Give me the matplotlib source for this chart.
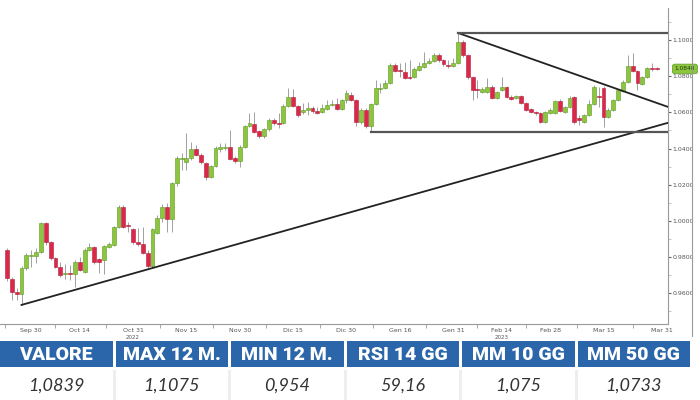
import numpy as np
import matplotlib
matplotlib.use('Agg')
import matplotlib.pyplot as plt
from matplotlib.patches import Rectangle

# EUR/USD daily candles, 23 Sep 2022 -> 30 Mar 2023 (business days)
opens = [0.9839, 0.9679, 0.9607, 0.9595, 0.9739, 0.9806, 0.9806, 0.9828, 0.9989, 0.9883,
         0.9794, 0.9745, 0.9706, 0.9712, 0.9706, 0.9772, 0.9717, 0.9839, 0.9855, 0.9789,
         0.9783, 0.9855, 0.9866, 0.9966, 1.0077, 0.9977, 0.9955, 0.9883, 0.9872, 0.9822,
         0.9750, 0.9933, 1.0016, 1.0077, 1.0010, 1.0209, 1.0342, 1.0325, 1.0347, 1.0397,
         1.0364, 1.0320, 1.0242, 1.0303, 1.0397, 1.0403, 1.0408, 1.0347, 1.0331, 1.0408,
         1.0524, 1.0535, 1.0497, 1.0469, 1.0508, 1.0558, 1.0541, 1.0541, 1.0635, 1.0685,
         1.0635, 1.0602, 1.0613, 1.0624, 1.0607, 1.0602, 1.0618, 1.0641, 1.0646, 1.0618,
         1.0668, 1.0696, 1.0668, 1.0547, 1.0613, 1.0524, 1.0646, 1.0729, 1.0735, 1.0762,
         1.0862, 1.0834, 1.0823, 1.0795, 1.0795, 1.0834, 1.0851, 1.0873, 1.0884, 1.0917,
         1.0889, 1.0862, 1.0856, 1.0873, 1.0989, 1.0917, 1.0795, 1.0729, 1.0713, 1.0713,
         1.0740, 1.0679, 1.0724, 1.0740, 1.0685, 1.0679, 1.0690, 1.0652, 1.0618, 1.0602,
         1.0596, 1.0547, 1.0596, 1.0596, 1.0663, 1.0602, 1.0630, 1.0685, 1.0569, 1.0547,
         1.0585, 1.0646, 1.0690, 1.0735, 1.0574, 1.0613, 1.0668, 1.0718, 1.0768, 1.0856,
         1.0828, 1.0757, 1.0795, 1.0845, 1.0842]
highs = [0.9850, 0.9690, 0.9629, 0.9750, 0.9822, 0.9839, 0.9850, 0.9994, 0.9994, 0.9888,
         0.9800, 0.9772, 0.9761, 0.9756, 0.9783, 0.9800, 0.9850, 0.9877, 0.9861, 0.9794,
         0.9866, 0.9883, 0.9971, 1.0088, 1.0088, 0.9994, 0.9960, 0.9960, 0.9966, 0.9839,
         0.9960, 1.0032, 1.0093, 1.0099, 1.0215, 1.0359, 1.0375, 1.0486, 1.0436, 1.0419,
         1.0375, 1.0325, 1.0309, 1.0414, 1.0430, 1.0430, 1.0502, 1.0359, 1.0419, 1.0530,
         1.0596, 1.0602, 1.0502, 1.0513, 1.0569, 1.0569, 1.0596, 1.0646, 1.0735, 1.0729,
         1.0641, 1.0652, 1.0657, 1.0635, 1.0630, 1.0646, 1.0668, 1.0668, 1.0679, 1.0674,
         1.0724, 1.0713, 1.0674, 1.0624, 1.0624, 1.0652, 1.0779, 1.0762, 1.0779, 1.0873,
         1.0873, 1.0873, 1.0878, 1.0889, 1.0851, 1.0878, 1.0934, 1.0900, 1.0928, 1.0928,
         1.0895, 1.0889, 1.0900, 1.1039, 1.1000, 1.0923, 1.0801, 1.0779, 1.0740, 1.0790,
         1.0751, 1.0718, 1.0795, 1.0746, 1.0696, 1.0696, 1.0696, 1.0657, 1.0624, 1.0607,
         1.0602, 1.0607, 1.0624, 1.0668, 1.0674, 1.0635, 1.0690, 1.0690, 1.0585, 1.0591,
         1.0668, 1.0751, 1.0740, 1.0746, 1.0624, 1.0674, 1.0729, 1.0779, 1.0917, 1.0928,
         1.0834, 1.0801, 1.0851, 1.0873, 1.0851]
lows = [0.9667, 0.9562, 0.9562, 0.9535, 0.9728, 0.9745, 0.9767, 0.9822, 0.9866, 0.9783,
        0.9739, 0.9690, 0.9679, 0.9673, 0.9634, 0.9722, 0.9712, 0.9834, 0.9761, 0.9712,
        0.9706, 0.9850, 0.9861, 0.9960, 0.9960, 0.9938, 0.9872, 0.9861, 0.9817, 0.9739,
        0.9739, 0.9927, 0.9994, 0.9938, 0.9938, 1.0193, 1.0281, 1.0281, 1.0336, 1.0359,
        1.0314, 1.0226, 1.0237, 1.0298, 1.0381, 1.0392, 1.0336, 1.0320, 1.0298, 1.0403,
        1.0519, 1.0486, 1.0458, 1.0458, 1.0497, 1.0530, 1.0513, 1.0535, 1.0630, 1.0630,
        1.0574, 1.0591, 1.0585, 1.0596, 1.0591, 1.0596, 1.0613, 1.0635, 1.0613, 1.0613,
        1.0652, 1.0663, 1.0524, 1.0535, 1.0513, 1.0491, 1.0641, 1.0707, 1.0729, 1.0757,
        1.0823, 1.0795, 1.0784, 1.0784, 1.0790, 1.0828, 1.0845, 1.0867, 1.0878, 1.0878,
        1.0856, 1.0845, 1.0851, 1.0867, 1.0906, 1.0784, 1.0668, 1.0679, 1.0707, 1.0707,
        1.0674, 1.0674, 1.0718, 1.0679, 1.0668, 1.0674, 1.0646, 1.0607, 1.0596, 1.0585,
        1.0541, 1.0541, 1.0591, 1.0591, 1.0602, 1.0596, 1.0624, 1.0535, 1.0530, 1.0541,
        1.0580, 1.0641, 1.0630, 1.0519, 1.0569, 1.0607, 1.0663, 1.0713, 1.0762, 1.0823,
        1.0724, 1.0751, 1.0790, 1.0828, 1.0834]
closes = [0.9684, 0.9607, 0.9595, 0.9739, 0.9811, 0.9811, 0.9828, 0.9989, 0.9883, 0.9794,
          0.9745, 0.9701, 0.9712, 0.9706, 0.9772, 0.9728, 0.9839, 0.9855, 0.9772, 0.9772,
          0.9861, 0.9872, 0.9966, 1.0077, 0.9966, 0.9971, 0.9883, 0.9872, 0.9822, 0.9750,
          0.9955, 1.0016, 1.0077, 1.0010, 1.0209, 1.0347, 1.0347, 1.0347, 1.0397, 1.0364,
          1.0325, 1.0242, 1.0303, 1.0403, 1.0408, 1.0408, 1.0342, 1.0331, 1.0408, 1.0524,
          1.0541, 1.0491, 1.0469, 1.0508, 1.0558, 1.0541, 1.0538, 1.0635, 1.0685, 1.0635,
          1.0585, 1.0613, 1.0624, 1.0607, 1.0596, 1.0624, 1.0641, 1.0646, 1.0618, 1.0668,
          1.0707, 1.0668, 1.0547, 1.0613, 1.0524, 1.0646, 1.0735, 1.0735, 1.0762, 1.0862,
          1.0828, 1.0831, 1.0790, 1.0790, 1.0840, 1.0856, 1.0873, 1.0884, 1.0917, 1.0889,
          1.0867, 1.0856, 1.0873, 1.0989, 1.0917, 1.0795, 1.0724, 1.0724, 1.0729, 1.0740,
          1.0679, 1.0713, 1.0740, 1.0685, 1.0674, 1.0690, 1.0652, 1.0613, 1.0602, 1.0596,
          1.0547, 1.0602, 1.0613, 1.0663, 1.0607, 1.0630, 1.0679, 1.0547, 1.0558, 1.0585,
          1.0646, 1.0740, 1.0685, 1.0574, 1.0613, 1.0668, 1.0724, 1.0768, 1.0856, 1.0828,
          1.0762, 1.0795, 1.0845, 1.0840, 1.0840]

start_day = '2022-09-23'
tick_dates = ['2022-09-30', '2022-10-14', '2022-10-31', '2022-11-15', '2022-11-30', '2022-12-15',
              '2022-12-30', '2023-01-16', '2023-01-31', '2023-02-14', '2023-02-28', '2023-03-15',
              '2023-03-31']
tick_labels = ['Sep 30', 'Oct 14', 'Oct 31', 'Nov 15', 'Nov 30', 'Dic 15', 'Dic 30',
               'Gen 16', 'Gen 31', 'Feb 14', 'Feb 28', 'Mar 15', 'Mar 31']
year_labels = {'2022': '2022-10-31', '2023': '2023-02-14'}

# trend lines: anchored on candle lows/highs, down line end level
up_anchor = (3, 30)     # candle indices of the two lows
top_idx = 93            # candle of the Feb high
support_idx = 75        # candle of the Jan low
down_end = 1.0630

headers = ['VALORE', 'MAX 12 M.', 'MIN 12 M.', 'RSI 14 GG', 'MM 10 GG', 'MM 50 GG']
values = ['1,0839', '1,1075', '0,954', '59,16', '1,075', '1,0733']

GREEN = '#8cc63f'
GREEN_EDGE = '#5e9a24'
RED = '#dc2848'
RED_EDGE = '#b01e3a'
BLUE = '#2a66a9'

o = np.array(opens); h = np.array(highs); l = np.array(lows); c = np.array(closes)
n = len(c)
x = np.arange(n)

fig = plt.figure(figsize=(7, 4), dpi=100)
ax = fig.add_axes([0.0, 0.19, 0.9543, 0.79])

xmin, xmax = -1.44, 136.3
ax.set_xlim(xmin, xmax)
ax.set_ylim(0.94295, 1.1177)

# wicks
ax.vlines(x, l, h, color='#a0a0a0', lw=0.7, zorder=2)
# bodies
up = c >= o
body_lo = np.minimum(o, c)
body_h = np.maximum(np.abs(c - o), 0.0004)
ax.bar(x[up], body_h[up], bottom=body_lo[up], width=0.8, color=GREEN,
       edgecolor=GREEN_EDGE, linewidth=0.4, zorder=3)
ax.bar(x[~up], body_h[~up], bottom=body_lo[~up], width=0.8, color=RED,
       edgecolor=RED_EDGE, linewidth=0.4, zorder=3)

# rising trendline
i0, i1 = up_anchor
slope = (l[i1] - l[i0]) / (i1 - i0)
ax.plot([i0, xmax], [l[i0], l[i0] + slope * (xmax - i0)], color='#222222', lw=1.3, zorder=4)
# falling line from the high
ax.plot([top_idx, xmax], [h[top_idx], down_end], color='#222222', lw=1.3, zorder=4)
# horizontal range
ax.plot([top_idx, xmax], [h[top_idx], h[top_idx]], color='#555555', lw=1.6, zorder=4)
ax.plot([support_idx, xmax], [l[support_idx], l[support_idx]], color='#555555', lw=1.6, zorder=4)

# axes styling
for s in ['left', 'top']:
    ax.spines[s].set_visible(False)
ax.spines['right'].set_color('#999999')
ax.spines['bottom'].set_color('#999999')
ax.spines['right'].set_linewidth(0.8)
ax.spines['bottom'].set_linewidth(0.8)

ax.yaxis.tick_right()
yt = np.arange(0.96, 1.101, 0.02)
ax.set_yticks(yt)
ax.set_yticklabels([f'{v:.4f}' for v in yt])
ax.set_yticks(np.arange(0.95, 1.111, 0.02), minor=True)
ax.tick_params(axis='y', which='major', length=2, width=0.8, color='#666666',
               labelsize=4.5, labelcolor='#555555', pad=1)
ax.tick_params(axis='y', which='minor', length=2, width=0.5, color='#aaaaaa')

tick_pos = np.busday_count(start_day, tick_dates)
ax.set_xticks(tick_pos)
ax.set_xticklabels(tick_labels)
mids = (tick_pos[:-1] + tick_pos[1:]) / 2.0
ax.set_xticks(np.concatenate([[tick_pos[0] - 5.5], mids]), minor=True)
ax.tick_params(axis='x', which='major', length=0, labelsize=4.5, labelcolor='#555555', pad=3)
ax.tick_params(axis='x', which='minor', length=3, width=0.6, color='#999999')
for yr, d in year_labels.items():
    ax.text(np.busday_count(start_day, d), -0.034, yr, transform=ax.get_xaxis_transform(),
            ha='center', va='top', fontsize=4, color='#555555')

# last price tag
ax.annotate(f'{c[-1]:.4f}', xy=(1.0, c[-1]), xycoords=('axes fraction', 'data'),
            xytext=(1.01, c[-1]), textcoords=('axes fraction', 'data'),
            ha='left', va='center', fontsize=4.2, color='#1e3a0a',
            bbox=dict(boxstyle='round,pad=0.4', fc=GREEN, ec=GREEN_EDGE, lw=0.5),
            annotation_clip=False)

# outer frame line on the right
fig.add_artist(plt.Line2D([692 / 700, 692 / 700], [1 - 336 / 400, 1.0],
                          transform=fig.transFigure, color='#999999', lw=0.8))

# summary table at the bottom (pixel coordinates)
tab = fig.add_axes([0, 0, 1, 1])
tab.set_xlim(0, 700)
tab.set_ylim(400, 0)
tab.axis('off')
tab.patch.set_alpha(0)

cell_w, gap = 112.5, 3.0
for k, (hd, val) in enumerate(zip(headers, values)):
    x0 = k * (cell_w + gap)
    tab.add_patch(Rectangle((x0, 341), cell_w, 26, facecolor=BLUE, edgecolor='none'))
    tab.text(x0 + cell_w / 2, 354.5, hd, ha='center', va='center', color='white',
             fontsize=14, fontweight='heavy', family='Roboto')
    tab.text(x0 + cell_w / 2, 385.5, val, ha='center', va='center', color='#333333',
             fontsize=13, style='italic', fontweight='normal', family='Lato')
    if k > 0:
        tab.add_patch(Rectangle((x0 - gap, 370), gap, 30, facecolor='#eeeeee', edgecolor='none'))

fig.savefig('out.png', dpi=100, facecolor='white')
